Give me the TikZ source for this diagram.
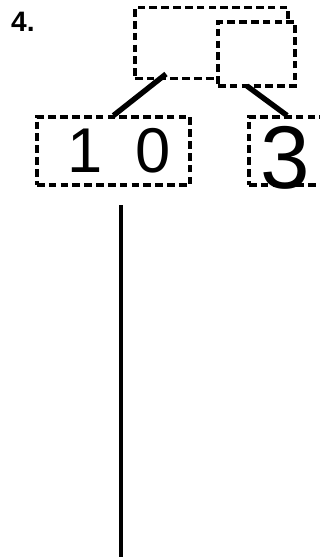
\documentclass[tikz,border=0pt]{standalone}
\usepackage{fontspec}
\setmainfont{Liberation Sans}
\usetikzlibrary{positioning}

\begin{document}
\begin{tikzpicture}[x=0.03cm, y=-0.03cm]
  \tikzset{
    dbox/.style={
      draw,
      line width=2.6pt,
      dash pattern=on 6.5pt off 3.6pt,
      minimum width=4.59cm,
      minimum height=2.04cm,
      anchor=center,
      inner sep=0pt
    },
    branch/.style={
      line width=4.6pt
    },
    digit/.style={
      font=\fontsize{54}{54}\selectfont
    }
  }
  \useasboundingbox (0,0) rectangle (320,557);

  % problem number
  \node[font=\fontsize{24}{24}\selectfont\bfseries, anchor=west] (num) at (7,22) {4.};

  % top boxes
  \node[dbox, minimum height=2.13cm] at (211.5,43) (whole) {};
  \node[dbox, minimum width=2.31cm, minimum height=1.92cm, fill=white] at (256.5,54) (part) {};

  % bottom boxes
  \node[dbox] at (113.5,151) (tens) {};
  \node[digit] at (119,151) (tensdigits) {1\hspace{1.0cm}0};
  \node[dbox, minimum width=2.28cm] at (287,151) (ones) {};
  \node[font=\fontsize{76}{76}\selectfont] at (285,158) (onesdigit) {3};

  % branches
  \coordinate (wholejoin) at (166,74);
  \coordinate (partjoin) at (247,86);
  \draw[branch] (wholejoin) -- (tens.north);
  \draw[branch] (partjoin) -- (ones.north);

  % number line stem
  \coordinate (stemtop) at (121,205);
  \coordinate (stembot) at (121,557);
  \draw[line width=3.2pt] (stemtop) -- (stembot);
\end{tikzpicture}
\end{document}
